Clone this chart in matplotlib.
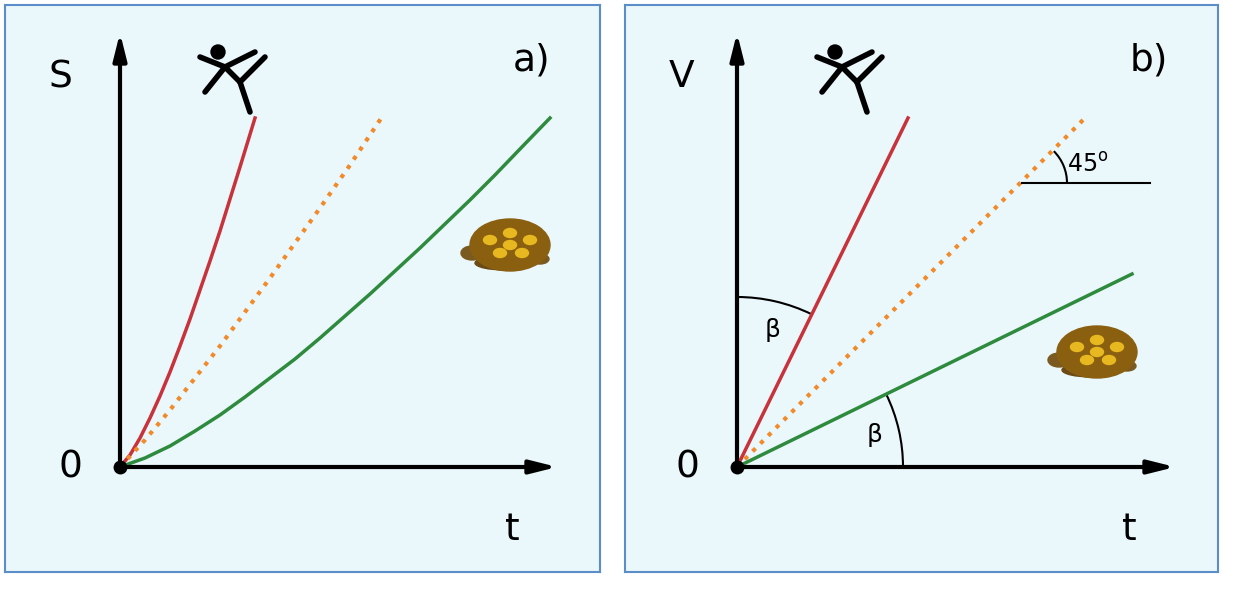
import matplotlib.pyplot as plt
from matplotlib.patches import Arc, Ellipse, Circle
import numpy as np

# panel a: distance vs time (units = pixels from origin)
red_a_t = [0, 10, 20, 30, 40, 50, 60, 70, 80, 90, 100, 110, 120, 135]
red_a_s = [0, 12, 29, 49, 71, 95, 121, 148, 177, 206, 236, 268, 300, 349]
orange_a_t = [0, 25, 50, 75, 100, 125, 150, 175, 200, 230, 262]
orange_a_s = [0, 27, 57, 89, 121, 155, 189, 224, 259, 302, 350]
green_a_t = [0, 25, 50, 75, 100, 125, 150, 175, 200, 225, 250, 275, 300, 325, 350, 375, 400, 430]
green_a_s = [0, 9, 21, 36, 52, 70, 89, 108, 129, 151, 173, 196, 219, 243, 267, 292, 318, 349]

# panel b: velocity vs time
red_b_t = [0, 171]
red_b_v = [0, 349]
orange_b_t = [0, 348]
orange_b_v = [0, 349]
green_b_t = [0, 395]
green_b_v = [0, 193]

RED = "#c8323a"
ORANGE = "#f08a2a"
GREEN = "#2e8b3e"
BG = "#eaf7fb"
EDGE = "#5b8ec9"

fig = plt.figure(figsize=(12.4, 5.98), dpi=100)
W, H = 1240, 598
ox_end = {120: 560, 737: 1178}


def make_panel(x0, x1, ox, oy):
    # panel box in pixels, data origin at (ox, oy) pixel
    ax = fig.add_axes([x0 / W, 1 - 572 / H, (x1 - x0) / W, (572 - 5) / H])
    ax.set_xlim(x0 - ox, x1 - ox)
    ax.set_ylim(oy - 572, oy - 5)
    ax.set_facecolor(BG)
    for s in ax.spines.values():
        s.set_color(EDGE)
        s.set_linewidth(1.5)
    ax.set_xticks([])
    ax.set_yticks([])
    ax.annotate("", xy=(0, 437), xytext=(0, 0),
                arrowprops=dict(arrowstyle="-|>,head_length=1.6,head_width=0.4", color="black", lw=3))
    ax.annotate("", xy=(ox_end[ox] - ox, 0), xytext=(0, 0),
                arrowprops=dict(arrowstyle="-|>,head_length=1.6,head_width=0.4", color="black", lw=3))
    ax.plot([0], [0], "o", color="black", ms=9, zorder=5)
    return ax


def turtle(ax, cx, cy):
    ax.add_patch(Ellipse((cx - 38, cy - 8), 22, 14, color="#7a5a20"))
    ax.add_patch(Ellipse((cx + 30, cy - 14), 18, 10, color="#7a5a20"))
    ax.add_patch(Ellipse((cx - 5, cy - 18), 60, 14, color="#6b4a15"))
    ax.add_patch(Ellipse((cx, cy), 80, 52, color="#8a6010"))
    for dx, dy in [(-20, 5), (0, 12), (20, 5), (-10, -8), (12, -8), (0, 0)]:
        ax.add_patch(Ellipse((cx + dx, cy + dy), 13, 9, color="#e8b820"))


def runner(ax, cx, cy):
    k = dict(color="black", lw=4, solid_capstyle="round")
    ax.plot([cx - 5, cx + 10], [cy + 5, cy - 10], **k)
    ax.plot([cx + 10, cx + 35], [cy - 10, cy + 15], **k)
    ax.plot([cx + 10, cx + 20], [cy - 10, cy - 40], **k)
    ax.plot([cx - 5, cx - 25], [cy + 5, cy - 20], **k)
    ax.plot([cx - 5, cx + 25], [cy + 5, cy + 20], **k)
    ax.plot([cx - 5, cx - 30], [cy + 5, cy + 15], **k)
    ax.add_patch(Circle((cx - 12, cy + 20), 7, color="black"))


big = dict(fontsize=27, color="black")

ax = make_panel(5, 600, 120, 467)
ax.plot(red_a_t, red_a_s, color=RED, lw=2.5)
ax.plot(orange_a_t, orange_a_s, color=ORANGE, lw=3, ls=":")
ax.plot(green_a_t, green_a_s, color=GREEN, lw=2.5)
ax.text(-60, 390, "S", ha="center", va="center", **big)
ax.text(-50, 0, "0", ha="center", va="center", **big)
ax.text(392, -63, "t", ha="center", va="center", **big)
ax.text(412, 407, "a)", ha="center", va="center", **big)
turtle(ax, 390, 222)
runner(ax, 110, 395)

ax = make_panel(625, 1218, 737, 467)
ax.plot(red_b_t, red_b_v, color=RED, lw=2.5)
ax.plot(orange_b_t, orange_b_v, color=ORANGE, lw=3, ls=":")
ax.plot(green_b_t, green_b_v, color=GREEN, lw=2.5)
ax.text(-55, 390, "V", ha="center", va="center", **big)
ax.text(-50, 0, "0", ha="center", va="center", **big)
ax.text(392, -63, "t", ha="center", va="center", **big)
ax.text(412, 407, "b)", ha="center", va="center", **big)
# angle marks
ax.plot([285, 413], [284, 284], color="black", lw=1.5)
ax.add_patch(Arc((285, 284), 90, 90, theta1=0, theta2=45, color="black", lw=1.5))
ax.text(330, 302, "45$^{\\rm o}$", fontsize=17, ha="left", va="center")
r_ang = np.degrees(np.arctan2(red_b_v[1], red_b_t[1]))
g_ang = np.degrees(np.arctan2(green_b_v[1], green_b_t[1]))
ax.add_patch(Arc((0, 0), 340, 340, theta1=r_ang, theta2=90, color="black", lw=1.5))
ax.add_patch(Arc((0, 0), 332, 332, theta1=0, theta2=g_ang, color="black", lw=1.5))
ax.text(36, 137, "β", fontsize=18, ha="center", va="center")
ax.text(138, 32, "β", fontsize=18, ha="center", va="center")
turtle(ax, 360, 115)
runner(ax, 110, 395)

fig.savefig("out.png", dpi=100, facecolor="white")
